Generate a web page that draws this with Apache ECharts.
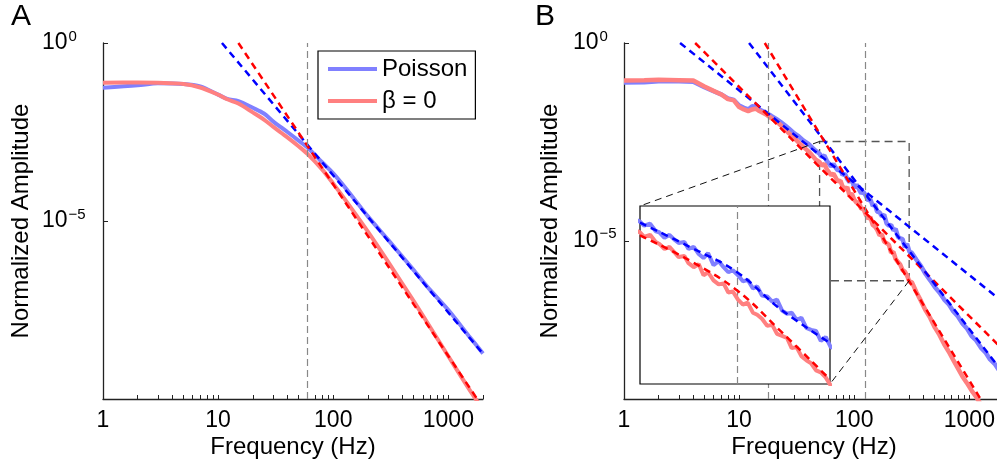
<!DOCTYPE html>
<html>
<head>
<meta charset="utf-8">
<script src="https://cdn.jsdelivr.net/npm/echarts@6/dist/echarts.min.js"></script>
<style>
  html, body { margin: 0; padding: 0; background: #fff; }
  #chart { width: 997px; height: 461px; }
</style>
</head>
<body>
<div id="chart"></div>
<script>
// amplitudes are kept as log10 values
const freqA = [1, 2, 3, 5, 7, 10, 12, 15, 20, 25, 30, 40, 50, 60, 80, 100, 130, 200, 300, 500, 700, 1000, 1500, 2000];
const poissonA = [-1.26, -1.19, -1.13, -1.15, -1.22, -1.45, -1.57, -1.63, -1.82, -1.98, -2.2, -2.5, -2.74, -2.94, -3.35, -3.66, -4.1, -4.87, -5.53, -6.38, -6.95, -7.5, -8.22, -8.72];
const beta0A = [-1.12, -1.11, -1.12, -1.15, -1.25, -1.45, -1.58, -1.7, -1.95, -2.15, -2.35, -2.65, -2.9, -3.12, -3.55, -3.95, -4.45, -5.3, -6.15, -7.25, -8.0, -8.8, -9.7, -10.3];

// power-law fits, panel A (end points)
const fitFreqPoissonA = [10.8, 2000];
const fitPoissonA = [0, -8.73];
const fitFreqBeta0A = [15, 1780];
const fitBeta0A = [0, -10.0];

const freqB = [1, 1.5, 2, 3, 4, 5, 6, 7, 8, 9, 10, 11, 12, 13, 14, 15, 17, 19, 21, 23, 25, 27, 30, 33, 36, 40, 43, 46,
  50, 52, 55, 58, 60, 63, 66, 69, 72, 76, 79, 83, 87, 91, 95, 100, 105, 110, 115, 120,
  126, 132, 138, 145, 151, 158, 166, 174, 182, 191, 200, 209, 219, 229, 240, 251, 263, 275, 288, 302, 316,
  347, 380, 417, 457, 501, 550, 603, 661, 724, 794, 871, 955, 1047, 1148, 1259, 1380, 1514, 1660, 1820, 2000];
const poissonB = [-1.00, -0.99, -0.97, -0.97, -0.98, -1.12, -1.22, -1.30, -1.40, -1.44, -1.58, -1.64, -1.68, -1.60, -1.61, -1.68, -1.76, -1.84, -1.92, -2.00, -2.08, -2.16, -2.28, -2.36, -2.46, -2.55, -2.64, -2.72,
  -2.80, -2.88, -2.84, -2.99, -3.01, -3.12, -3.06, -3.15, -3.22, -3.20, -3.34, -3.30, -3.44, -3.52, -3.42, -3.66, -3.58, -3.70, -3.80, -3.76,
  -3.86, -3.98, -3.95, -4.12, -4.08, -4.26, -4.28, -4.38, -4.34, -4.56, -4.62, -4.60, -4.74, -4.70, -4.90, -4.94, -4.96, -5.16, -5.08, -5.28, -5.30,
  -5.48, -5.64, -5.84, -6.00, -6.17, -6.31, -6.48, -6.60, -6.78, -6.91, -7.09, -7.22, -7.41, -7.52, -7.70, -7.82, -8.00, -8.11, -8.28, -8.40];
const beta0B = [-0.95, -0.94, -0.93, -0.94, -0.95, -1.10, -1.21, -1.30, -1.42, -1.45, -1.62, -1.68, -1.72, -1.68, -1.66, -1.72, -1.80, -1.90, -1.98, -2.08, -2.18, -2.28, -2.40, -2.52, -2.62, -2.74, -2.84, -2.94,
  -3.01, -3.10, -3.06, -3.20, -3.24, -3.34, -3.30, -3.40, -3.50, -3.48, -3.62, -3.70, -3.64, -3.86, -3.80, -3.96, -4.04, -4.02, -4.20, -4.18,
  -4.34, -4.44, -4.40, -4.60, -4.64, -4.72, -4.86, -4.84, -5.02, -5.06, -5.10, -5.30, -5.28, -5.46, -5.54, -5.60, -5.74, -5.78, -5.88, -6.04, -6.04,
  -6.30, -6.52, -6.76, -6.95, -7.19, -7.38, -7.61, -7.80, -8.01, -8.22, -8.43, -8.60, -8.79, -8.95, -9.14, -9.30, -9.50, -9.70, -9.90, -10.1];

// panel B fits: shallow and steep power laws
const fitShallowFreqPoissonB = [3.07, 2000];
const fitShallowPoissonB = [0, -6.57];
const fitShallowFreqBeta0B = [4.15, 2000];
const fitShallowBeta0B = [0, -7.78];
const fitSteepFreqPoissonB = [12.2, 2000];
const fitSteepPoissonB = [0, -8.37];
const fitSteepFreqBeta0B = [16.7, 1300];
const fitSteepBeta0B = [0, -9.08];

// inset (zoom of panel B)
const zoomFreq = [50, 300];
const zoomLog = [-2.49, -6.01];
const insetFitFreq = [50, 80, 125, 187, 300];
const insetFitPoisson = [-2.82, -3.30, -3.80, -4.52, -5.20];
const insetFitBeta0 = [-3.07, -3.57, -4.16, -4.95, -5.92];

const cutoffA = [60];
const cutoffB = [18, 125];

const xTickValues = [1, 2, 3, 4, 5, 6, 7, 8, 9, 10, 20, 30, 40, 50, 60, 70, 80, 90, 100, 200, 300, 400, 500, 600, 700, 800, 900, 1000, 2000];
const xLabelValues = [1, 10, 100, 1000];
const yLabelValues = [1e-5, 1];

const FONT = "'Liberation Sans', Arial, sans-serif";
const BLUE = '#8080ff', RED = '#ff8080', DBLUE = '#0000ff', DRED = '#ff0000';

function pts(freq, logs) {
  return freq.map((f, i) => [f, Math.pow(10, logs[i])]);
}

function xAxisFor(gridIndex) {
  return {
    type: 'log', logBase: 10, gridIndex: gridIndex, min: 1, max: 2000,
    axisLine: { show: true, onZero: false, lineStyle: { color: '#222', width: 1.3 } },
    axisTick: { show: true, inside: true, length: 4, customValues: xTickValues, lineStyle: { color: '#222', width: 1 } },
    axisLabel: {
      customValues: xLabelValues, formatter: v => String(Math.round(v)),
      fontSize: 23, color: '#000', fontFamily: FONT, margin: 10
    },
    splitLine: { show: false },
    name: 'Frequency (Hz)', nameLocation: 'middle', nameGap: 36, nameMoveOverlap: false,
    nameTextStyle: { fontSize: 24, color: '#000', fontFamily: FONT }
  };
}

// MATLAB puts the y tick labels left-aligned, so margin is to the left edge
function yAxisFor(gridIndex, min, gap, labelMargin) {
  return {
    type: 'log', logBase: 10, gridIndex: gridIndex, min: min, max: 1,
    axisLine: { show: true, onZero: false, lineStyle: { color: '#222', width: 1.3 } },
    axisTick: { show: true, inside: true, length: 5, customValues: yLabelValues, lineStyle: { color: '#222', width: 1 } },
    axisLabel: {
      customValues: yLabelValues, margin: labelMargin, align: 'left',
      formatter: function (v) {
        const e = Math.round(Math.log10(v));
        return '{b|10}{s|' + (e < 0 ? '\u2212' + (-e) : String(e)) + '}';
      },
      rich: {
        b: { fontSize: 23, fontFamily: FONT, color: '#000', lineHeight: 23 },
        s: { fontSize: 15, fontFamily: FONT, color: '#000', lineHeight: 15, padding: [0, 0, 13, 1] }
      }
    },
    splitLine: { show: false },
    name: 'Normalized Amplitude', nameLocation: 'middle', nameRotate: 90, nameGap: gap, nameMoveOverlap: false,
    nameTextStyle: { fontSize: 24, color: '#000', fontFamily: FONT }
  };
}

function solid(name, idx, data, color, width, z) {
  return {
    name: name, type: 'line', xAxisIndex: idx, yAxisIndex: idx, data: data,
    showSymbol: false, symbol: 'none', color: color, z: z || 2,
    lineStyle: { color: color, width: width }, itemStyle: { color: color }
  };
}

function dashed(idx, data, color, z) {
  return {
    type: 'line', xAxisIndex: idx, yAxisIndex: idx, data: data,
    showSymbol: false, symbol: 'none', z: z || 3,
    lineStyle: { color: color, width: 2.5, type: [7, 5] }
  };
}

function guides(values, z) {
  return {
    silent: true, symbol: 'none', label: { show: false }, z: z,
    lineStyle: { color: '#888', width: 1.2, type: [7, 4] },
    data: values.map(v => ({ xAxis: v }))
  };
}

const chart = echarts.init(document.getElementById('chart'), null, { renderer: 'canvas' });

const poissonASeries = solid('Poisson', 0, pts(freqA, poissonA), BLUE, 4);
poissonASeries.smooth = 0.3;
poissonASeries.markLine = guides(cutoffA);
const beta0ASeries = solid('β = 0', 0, pts(freqA, beta0A), RED, 4);
beta0ASeries.smooth = 0.3;

const poissonBSeries = solid('Poisson', 1, pts(freqB, poissonB), BLUE, 4.5);
poissonBSeries.markLine = guides(cutoffB);
poissonBSeries.markArea = {
  silent: true, label: { show: false },
  itemStyle: { color: 'rgba(0,0,0,0)', borderColor: '#555', borderWidth: 1.3, borderType: [8, 5] },
  data: [[{ coord: [zoomFreq[0], Math.pow(10, zoomLog[0])] }, { coord: [zoomFreq[1], Math.pow(10, zoomLog[1])] }]]
};
const beta0BSeries = solid('β = 0', 1, pts(freqB, beta0B), RED, 4.5);

const insetPoisson = solid('Poisson', 2, pts(freqB, poissonB), BLUE, 4, 12);
insetPoisson.markLine = guides([125], 12);
const insetBeta0 = solid('β = 0', 2, pts(freqB, beta0B), RED, 4, 12);
const insetFitP = dashed(2, pts(insetFitFreq, insetFitPoisson), DBLUE, 13);
insetFitP.smooth = 0.4;
const insetFitR = dashed(2, pts(insetFitFreq, insetFitBeta0), DRED, 13);
insetFitR.smooth = 0.4;

const option = {
  animation: false,
  backgroundColor: '#fff',
  title: [
    { text: 'A', left: 11, top: 2, padding: 0, textStyle: { fontSize: 30, fontWeight: 'normal', color: '#000', fontFamily: FONT } },
    { text: 'B', left: 535, top: 2, padding: 0, textStyle: { fontSize: 30, fontWeight: 'normal', color: '#000', fontFamily: FONT } }
  ],
  legend: {
    data: ['Poisson', 'β = 0'], left: 318, top: 51, orient: 'vertical',
    padding: [6, 8, 6, 10], itemGap: 8, itemWidth: 49, itemHeight: 4, icon: 'rect',
    borderColor: '#000', borderWidth: 1.2, backgroundColor: '#fff', selectedMode: false,
    textStyle: { fontSize: 24, color: '#000', fontFamily: FONT }
  },
  grid: [
    { left: 103, top: 43, right: 514, bottom: 62, outerBoundsMode: 'none' },
    { left: 624, top: 43, right: -7, bottom: 62, outerBoundsMode: 'none' },
    { left: 640, top: 206, width: 190, height: 178, outerBoundsMode: 'none', show: true, backgroundColor: '#fff', borderColor: '#000', borderWidth: 1.2, z: 10 }
  ],
  xAxis: [
    xAxisFor(0),
    xAxisFor(1),
    { type: 'log', logBase: 10, gridIndex: 2, min: zoomFreq[0], max: zoomFreq[1], show: false }
  ],
  yAxis: [
    yAxisFor(0, 1e-10, 70, 61),
    yAxisFor(1, 1e-9, 62, 51),
    { type: 'log', logBase: 10, gridIndex: 2, min: Math.pow(10, zoomLog[1]), max: Math.pow(10, zoomLog[0]), show: false }
  ],
  series: [
    poissonASeries,
    beta0ASeries,
    dashed(0, pts(fitFreqPoissonA, fitPoissonA), DBLUE),
    dashed(0, pts(fitFreqBeta0A, fitBeta0A), DRED),
    poissonBSeries,
    beta0BSeries,
    dashed(1, pts(fitShallowFreqPoissonB, fitShallowPoissonB), DBLUE),
    dashed(1, pts(fitShallowFreqBeta0B, fitShallowBeta0B), DRED),
    dashed(1, pts(fitSteepFreqPoissonB, fitSteepPoissonB), DBLUE),
    dashed(1, pts(fitSteepFreqBeta0B, fitSteepBeta0B), DRED),
    insetPoisson,
    insetBeta0,
    insetFitP,
    insetFitR
  ]
};

chart.setOption(option);

// lines joining the zoom box to the inset corners
const boxTL = chart.convertToPixel({ xAxisIndex: 1, yAxisIndex: 1 }, [zoomFreq[0], Math.pow(10, zoomLog[0])]);
const boxBR = chart.convertToPixel({ xAxisIndex: 1, yAxisIndex: 1 }, [zoomFreq[1], Math.pow(10, zoomLog[1])]);
const insTL = chart.convertToPixel({ xAxisIndex: 2, yAxisIndex: 2 }, [zoomFreq[0], Math.pow(10, zoomLog[0])]);
const insBR = chart.convertToPixel({ xAxisIndex: 2, yAxisIndex: 2 }, [zoomFreq[1], Math.pow(10, zoomLog[1])]);
const joinStyle = { stroke: '#111', lineWidth: 1, lineDash: [7, 5] };
chart.setOption({
  graphic: [
    { type: 'line', z: 5, silent: true, shape: { x1: boxTL[0], y1: boxTL[1], x2: insTL[0], y2: insTL[1] }, style: joinStyle },
    { type: 'line', z: 5, silent: true, shape: { x1: boxBR[0], y1: boxBR[1], x2: insBR[0], y2: insBR[1] }, style: joinStyle }
  ]
});
</script>
</body>
</html>
